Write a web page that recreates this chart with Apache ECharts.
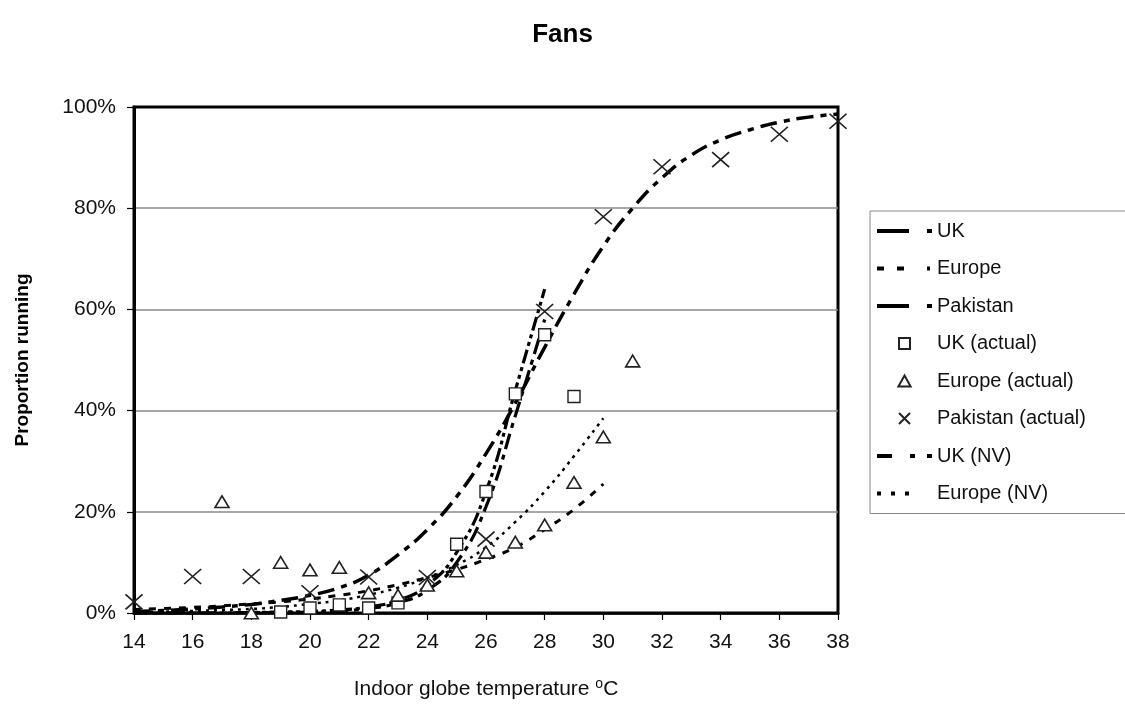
<!DOCTYPE html>
<html>
<head>
<meta charset="utf-8">
<script src="https://cdn.jsdelivr.net/npm/echarts@6/dist/echarts.min.js"></script>
<style>
html,body{margin:0;padding:0;background:#fff;}
#chart{width:1125px;height:713px;}
</style>
</head>
<body>
<div id="chart"></div>
<script>
// ---- data ----
const xTicks = [14,16,18,20,22,24,26,28,30,32,34,36,38];
const yTicks = [0,20,40,60,80,100];

// fitted curves (x = temperature, y = % running)
const ukFitT = [14,15,16,17,18,19,20,21,22,23,24,25,26,27,28];
const ukFit  = [0,0,0,0,0.1,0.1,0.2,0.4,0.9,2,4.5,10,21,39,58];

const europeFitT = [14,15,16,17,18,19,20,21,22,23,24,25,26,27,28,29,30];
const europeFit  = [0.7,0.9,1.1,1.4,1.8,2.2,2.8,3.5,4.4,5.6,7,8.6,10.6,13,16.5,20.5,25.5];

const pakistanFitT = [14,15,16,17,18,19,20,21,22,23,24,25,26,27,28,29,30,31,32,33,34,35,36,37,38];
const pakistanFit  = [0.3,0.5,0.8,1.2,1.7,2.5,3.5,5,7.5,11.5,16.5,23,31.5,41.5,52.5,63,72.5,80,86,90.5,93.5,95.5,97,98,98.6];

const ukNvFitT = [14,15,16,17,18,19,20,21,22,23,24,25,26,27,28];
const ukNvFit  = [0,0,0,0,0.1,0.2,0.3,0.6,1.2,2.5,5.5,12,24,44,64];

const europeNvFitT = [14,15,16,17,18,19,20,21,22,23,24,25,26,27,28,29,30];
const europeNvFit  = [0.2,0.3,0.4,0.6,0.8,1.2,1.8,2.5,3.6,5,7,9.5,13,18,24,31,38.5];

// observed points
const ukActualT = [19,20,21,22,23,25,26,27,28,29];
const ukActual  = [0.2,1,1.6,1,2,13.6,24,43.3,55,42.8];

const europeActualT = [17,18,19,20,21,22,23,24,25,26,27,28,29,30,31];
const europeActual  = [22,0,10,8.5,9,4,3.5,5.5,8.3,12,14,17.4,25.8,34.8,49.8];

const pakistanActualT = [14,16,18,20,22,24,26,28,30,32,34,36,38];
const pakistanActual  = [2.2,7.2,7.2,4,7.1,7,14.6,59.6,78.3,88.2,89.6,94.6,97.2];

const legendNames = ['UK','Europe','Pakistan','UK (actual)','Europe (actual)','Pakistan (actual)','UK (NV)','Europe (NV)'];

// legend icon dash patterns (style only)
const legendDash = {
  'UK': [32,18,6,10],
  'Europe': [7,13,7,23,3,10],
  'Pakistan': [32,18,6,10],
  'UK (NV)': [15,18,5,12,5,10],
  'Europe (NV)': [4,10,4,10,4,24,2,10]
};

function pairs(xs, ys){ return xs.map((x,i)=>[x, ys[i]]); }

const FONT = 'Liberation Sans, Arial, sans-serif';
const chart = echarts.init(document.getElementById('chart'));

const SQUARE = 'path://M0,0L10,0L10,10L0,10Z';
const TRIANGLE = 'path://M5,0L10,9L0,9Z';
const CROSS = 'path://M0,0L10,10M10,0L0,10';

function curve(name, xs, ys, dash, width){
  return {
    name, type:'line', data: pairs(xs, ys), smooth: true,
    symbol:'circle', showSymbol:false,
    lineStyle:{color:'#000', width: width, type: dash, cap:'butt'},
    itemStyle:{color:'#000'}, z: 2, animation:false
  };
}
function points(name, xs, ys, symbol, size, fill, bw){
  return {
    name, type:'scatter', data: pairs(xs, ys), symbol, symbolSize: size, symbolKeepAspect:true,
    itemStyle:{color: fill, borderColor:'#222', borderWidth: bw, opacity:1},
    z: 5, animation:false
  };
}

const option = {
  backgroundColor:'#fff',
  animation:false,
  title:{
    text:'Fans', left:'center', top:17,
    textStyle:{fontFamily:FONT, fontSize:26, fontWeight:'bold', color:'#000'}
  },
  grid:{left:134, right:287, top:107, bottom:100, show:true, borderColor:'#000', borderWidth:3, backgroundColor:'transparent'},
  legend:{
    orient:'vertical', left:870, top:211,
    itemWidth:55, itemHeight:11, itemGap:17.5,
    symbolKeepAspect:true,
    padding:[10,200,10,5],
    borderColor:'#888', borderWidth:1,
    textStyle:{fontFamily:FONT, fontSize:20, color:'#111'},
    data: legendNames.map(n => legendDash[n]
      ? {name:n, itemStyle:{opacity:0}, lineStyle:{width:4, color:'#000', type: legendDash[n], cap:'butt'}}
      : {name:n})
  },
  xAxis:{
    type:'value', min:xTicks[0], max:xTicks[xTicks.length-1], interval:2,
    axisLine:{lineStyle:{color:'#000', width:2.5}},
    axisTick:{show:true, inside:false, length:7, lineStyle:{color:'#000', width:1.2}},
    axisLabel:{fontFamily:FONT, fontSize:21, color:'#111', margin:19},
    splitLine:{show:false},
    name:'Indoor globe temperature {sup|o}C',
    nameLocation:'middle', nameGap:64,
    nameTextStyle:{fontFamily:FONT, fontSize:21, color:'#111',
      rich:{sup:{fontFamily:FONT, fontSize:14, color:'#111', verticalAlign:'top', padding:[0,0,10,0]}}}
  },
  yAxis:{
    type:'value', min:yTicks[0], max:yTicks[yTicks.length-1], interval:20,
    axisLine:{show:true, lineStyle:{color:'#000', width:3}},
    axisTick:{show:true, inside:false, length:7, lineStyle:{color:'#000', width:1.2}},
    axisLabel:{fontFamily:FONT, fontSize:21, color:'#111', margin:18, formatter:'{value}%'},
    splitLine:{show:true, showMinLine:false, showMaxLine:false, lineStyle:{color:'#8a8a8a', width:1.5}},
    name:'Proportion running',
    nameLocation:'middle', nameGap:102, nameRotate:90,
    nameTextStyle:{fontFamily:FONT, fontSize:19, fontWeight:'bold', color:'#000'}
  },
  series:[
    curve('UK', ukFitT, ukFit, [16,6,5,6], 3.2),
    curve('Europe', europeFitT, europeFit, [7,8], 3),
    curve('Pakistan', pakistanFitT, pakistanFit, [17,7,6,7], 3.5),
    points('UK (actual)', ukActualT, ukActual, SQUARE, [12,12], '#fff', 1.4),
    points('Europe (actual)', europeActualT, europeActual, TRIANGLE, [14,13], '#fff', 1.6),
    points('Pakistan (actual)', pakistanActualT, pakistanActual, CROSS, [17,15], '#222', 1.6),
    curve('UK (NV)', ukNvFitT, ukNvFit, [14,4,4,4,4,4], 3.2),
    curve('Europe (NV)', europeNvFitT, europeNvFit, [3,5], 2.5)
  ]
};
chart.setOption(option);
</script>
</body>
</html>
